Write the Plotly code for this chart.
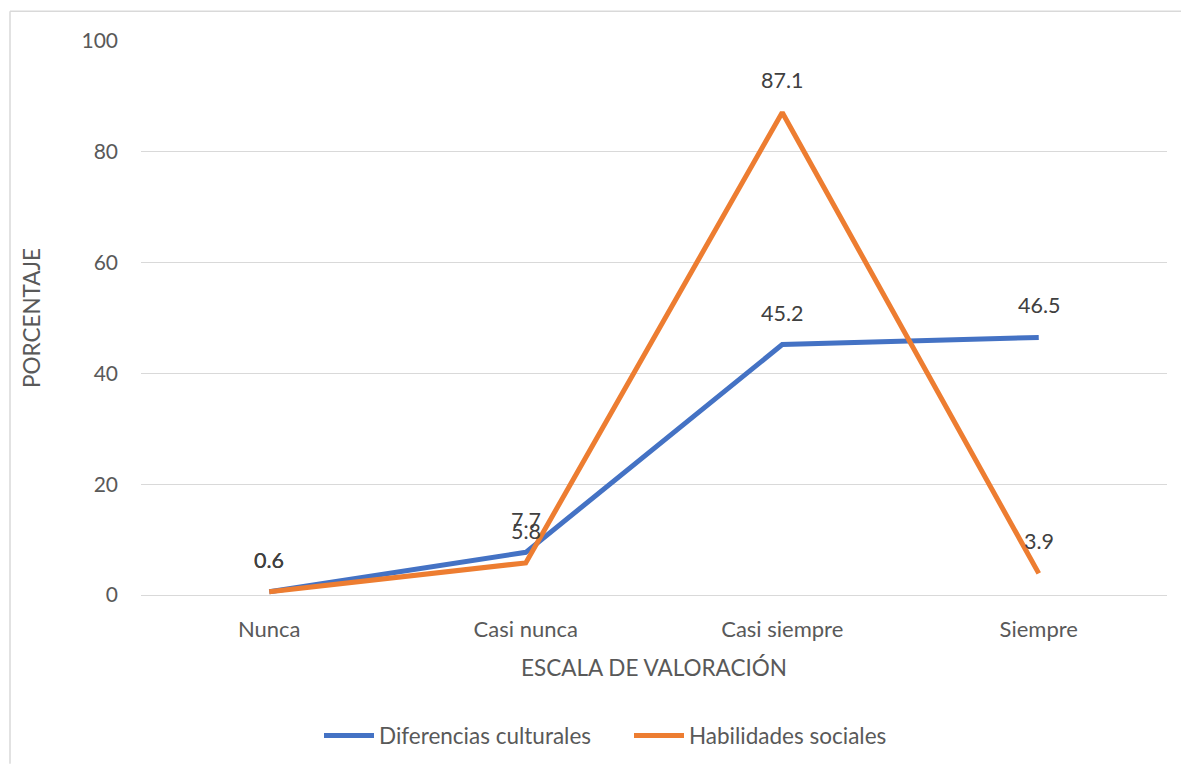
import plotly.graph_objects as go

categories = ["Nunca", "Casi nunca", "Casi siempre", "Siempre"]
diferencias = [0.6, 7.7, 45.2, 46.5]
habilidades = [0.6, 5.8, 87.1, 3.9]
series_names = ["Diferencias culturales", "Habilidades sociales"]
y_ticks = [0, 20, 40, 60, 80, 100]

BLUE = "#4472C4"
ORANGE = "#ED7D31"
FONT = "Lato"

fig = go.Figure()
fig.add_trace(go.Scatter(x=categories, y=diferencias, mode="lines", name=series_names[0],
                         line=dict(color=BLUE, width=5), legend="legend"))
fig.add_trace(go.Scatter(x=categories, y=habilidades, mode="lines", name=series_names[1],
                         line=dict(color=ORANGE, width=5), legend="legend2"))

for vals in (diferencias, habilidades):
    for c, v in zip(categories, vals):
        fig.add_annotation(x=c, y=v, text=f"{v:.1f}", showarrow=False, yshift=32,
                           font=dict(family=FONT, size=21.5, color="#404040"))

W, H = 1181, 769
L, T = 141, 41
R_EDGE, B_EDGE = 1167, 599
pw = R_EDGE - L
ph = B_EDGE - T
# outer chart border (top and left visible)
x0 = (10 - L) / pw
y0 = (B_EDGE - 11) / ph
x_end = (W - L) / pw
y_bot = -(H - B_EDGE) / ph
fig.add_shape(type="line", xref="paper", yref="paper", x0=x0, x1=x0, y0=y_bot, y1=y0,
              line=dict(color="#D9D9D9", width=1.5))
fig.add_shape(type="line", xref="paper", yref="paper", x0=x0, x1=x_end, y0=y0, y1=y0,
              line=dict(color="#D9D9D9", width=1.5))

legend_y = (B_EDGE - 741) / ph
leg_font = dict(family=FONT, size=22.5, color="#595959")

fig.update_layout(
    width=W, height=H,
    margin=dict(l=L, r=W - R_EDGE, t=T, b=H - B_EDGE),
    paper_bgcolor="white", plot_bgcolor="white",
    font=dict(family=FONT, size=21, color="#595959"),
    showlegend=True,
    legend=dict(orientation="h", x=(319 - L) / pw, xanchor="left", y=legend_y, yanchor="middle",
                itemwidth=50, font=leg_font),
    legend2=dict(orientation="h", x=(629 - L) / pw, xanchor="left", y=legend_y, yanchor="middle",
                 itemwidth=50, font=leg_font),
    xaxis=dict(range=[-0.5, 3.5], showgrid=False, showline=False, ticks="",
               ticklabelstandoff=19,
               tickfont=dict(size=22, color="#595959"),
               title=dict(text="ESCALA DE VALORACIÓN", font=dict(size=22.5, color="#595959"), standoff=19)),
    yaxis=dict(range=[0, 100], tickvals=y_ticks, showgrid=True, gridcolor="#D9D9D9", gridwidth=1.3,
               zeroline=True, zerolinecolor="#D9D9D9", zerolinewidth=1.3, showline=False, ticks="",
               ticklabelstandoff=22,
               tickfont=dict(size=21, color="#595959"),
               title=dict(text="PORCENTAJE", font=dict(size=22.5, color="#595959"), standoff=34)),
)

fig.write_html("out.html", config={"displayModeBar": False},
               post_script="document.body.style.margin='0';document.body.style.overflow='hidden';")
